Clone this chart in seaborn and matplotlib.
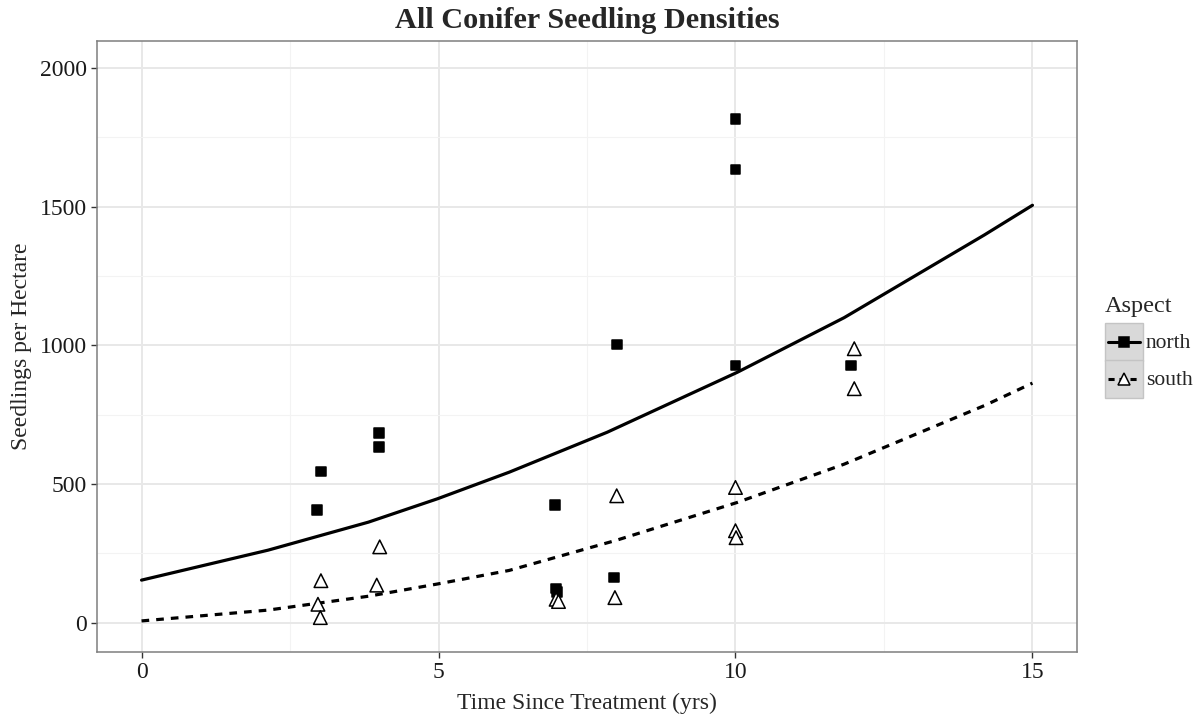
import numpy as np
import pandas as pd
import matplotlib
matplotlib.use("Agg")
import matplotlib.pyplot as plt
import seaborn as sns
from matplotlib.patches import Rectangle
from matplotlib.lines import Line2D

# ---- data ----
north_x = [2.95, 3.02, 4.0, 4.0, 6.96, 6.98, 7.0, 8.0, 7.95, 10.0, 10.0, 10.0, 11.95]
north_y = [407, 546, 685, 633, 425, 124, 112, 1003, 164, 1816, 1634, 928, 928]
south_x = [3.02, 2.97, 3.01, 4.01, 3.96, 6.98, 7.02, 8.0, 7.97, 10.0, 10.0, 10.01, 12.0, 12.0]
south_y = [152, 67, 19, 274, 136, 85, 77, 458, 91, 488, 332, 307, 988, 844]

north_line_x = [0, 2.13, 3.82, 4.98, 6.19, 7.84, 10.03, 11.83, 14.19, 15]
north_line_y = [154, 262, 363, 447, 543, 687, 903, 1100, 1398, 1505]
south_line_x = [0, 2.13, 3.82, 4.98, 6.19, 8.0, 10.03, 11.83, 14.19, 15]
south_line_y = [7, 46, 96, 140, 189, 298, 434, 572, 783, 864]

aspects = ["north", "south"]
title = "All Conifer Seedling Densities"
xlabel = "Time Since Treatment (yrs)"
ylabel = "Seedlings per Hectare"
xticks = [0, 5, 10, 15]
yticks = [0, 500, 1000, 1500, 2000]

pts = pd.concat([
    pd.DataFrame({"x": north_x, "y": north_y, "Aspect": "north"}),
    pd.DataFrame({"x": south_x, "y": south_y, "Aspect": "south"}),
], ignore_index=True)
lines = pd.concat([
    pd.DataFrame({"x": north_line_x, "y": north_line_y, "Aspect": "north"}),
    pd.DataFrame({"x": south_line_x, "y": south_line_y, "Aspect": "south"}),
], ignore_index=True)

sns.set_theme(style="white")
plt.rcParams['font.family'] = ['Liberation Serif', 'DejaVu Serif']

W, H = 1202, 719
fig = plt.figure(figsize=(W / 100, H / 100), dpi=100)
L, R, T, B = 97, 1077, 41, 652
ax = fig.add_axes([L / W, 1 - B / H, (R - L) / W, (B - T) / H])

# grid
ax.set_xticks(xticks)
ax.set_yticks(yticks)
ax.set_xticks([2.5, 7.5, 12.5], minor=True)
ax.set_yticks([250, 750, 1250, 1750], minor=True)
ax.grid(which="major", color="#E8E8E8", linewidth=1.4)
ax.grid(which="minor", color="#F3F3F3", linewidth=0.8)
ax.set_axisbelow(True)

sns.lineplot(data=lines, x="x", y="y", style="Aspect",
             dashes={"north": "", "south": (2.4, 2.2)},
             color="black", linewidth=2.3, errorbar=None,
             legend=False, ax=ax)
sns.scatterplot(data=pts, x="x", y="y", style="Aspect", hue="Aspect",
                size="Aspect", sizes={"north": 48, "south": 95},
                markers={"north": "s", "south": "^"},
                palette={"north": "black", "south": "white"},
                edgecolor="black", linewidth=1.1,
                legend=False, ax=ax, zorder=3)

ax.set_xlim(-0.75, 15.75)
ax.set_ylim(-105, 2097)

for sp in ax.spines.values():
    sp.set_color("#7F7F7F")
    sp.set_linewidth(1.1)

ax.tick_params(axis="both", which="major", length=4, width=1, color="#333333",
               labelsize=17, labelcolor="#1a1a1a", pad=3,
               bottom=True, left=True)
ax.tick_params(which="minor", length=0)

ax.set_xlabel(xlabel, fontsize=17)
ax.set_ylabel(ylabel, fontsize=17)
ax.xaxis.set_label_coords(0.5, (B - 703) / (B - T))
ax.xaxis.label.set_va("center")
ax.yaxis.set_label_coords((22 - L) / (R - L), 0.5)
ax.yaxis.label.set_va("center")

fig.text((L + R) / 2 / W, 1 - 20 / H, title, ha="center", va="center",
         fontsize=21.8, fontweight="bold")

# ---- legend ----
lg = fig.add_axes([1085 / W, 1 - 405 / H, (W - 1085) / W, (405 - 290) / H])
lg.set_xlim(1085, W)
lg.set_ylim(405, 290)
lg.axis("off")
lg.text(1105, 306, "Aspect", ha="left", va="center", fontsize=17.5)
styles = {"north": ("-", "s", "black", 342), "south": ((0, (2.0, 1.6)), "^", "white", 379)}
for i, a in enumerate(aspects):
    ls, mk, fc, yc = styles[a]
    lg.add_patch(Rectangle((1105, yc - 19), 37.5, 38, facecolor="#D9D9D9",
                           edgecolor="#C4C4C4", linewidth=1.0))
    lg.add_line(Line2D([1108, 1139.5], [yc, yc], color="black", linestyle=ls,
                       linewidth=2.2))
    lg.add_line(Line2D([1123.75], [yc], marker=mk, markersize=7 if mk == "s" else 9,
                       markerfacecolor=fc, markeredgecolor="black",
                       markeredgewidth=1.1, linestyle="none"))
    lg.text(1146, yc + 1, a, ha="left", va="center", fontsize=15.5)

fig.savefig("out.png", dpi=100)
